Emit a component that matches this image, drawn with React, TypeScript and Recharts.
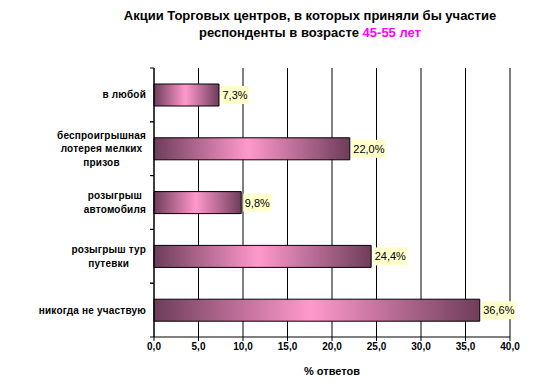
import React from 'react';
import { BarChart, Bar, XAxis, YAxis, CartesianGrid, ReferenceLine, LabelList } from 'recharts';

const categories = [
    'в любой',
    'беспроигрышная\nлотерея мелких\nпризов',
    'розыгрыш\nавтомобиля',
    'розыгрыш тур\nпутевки',
    'никогда не участвую',
];
const values = [7.3, 22.0, 9.8, 24.4, 36.6];
const xTicks = [0, 5, 10, 15, 20, 25, 30, 35, 40];

const data = categories.map((name, i) => ({ name, value: values[i] }));

const W = 535;
const H = 390;
const FONT = '"Liberation Sans", Arial, sans-serif';
const margin = { top: 68, right: 25, bottom: 13, left: 4 };
const xAxisHeight = 40;
const band = (H - margin.top - margin.bottom - xAxisHeight) / categories.length;

let ctx: CanvasRenderingContext2D | null = null;
const measure = (text: string, font: string, spacing = 0) => {
    if (!ctx) ctx = document.createElement('canvas').getContext('2d');
    if (!ctx) return text.length * 6;
    ctx.font = font;
    return ctx.measureText(text).width + spacing * text.length;
};

const fmt = (v: number) => v.toFixed(1).replace('.', ',');

const CategoryTick = (props: any) => {
    const { x, y, payload } = props;
    const lines = String(payload.value).split('\n');
    const spacing = 0.2;
    const w = Math.max(...lines.map((l) => measure(l, `bold 10px ${FONT}`, spacing)));
    const cx = x - w / 2;
    const lh = 13.5;
    const y0 = y - ((lines.length - 1) * lh) / 2;
    return (
        <g>
            <line x1={x + 4} x2={x + 8} y1={y - band / 2} y2={y - band / 2} stroke="#000" />
            <line x1={x + 4} x2={x + 8} y1={y + band / 2} y2={y + band / 2} stroke="#000" />
            {lines.map((l, i) => (
                <text
                    key={i}
                    x={cx}
                    y={y0 + i * lh}
                    textAnchor="middle"
                    dominantBaseline="central"
                    fontFamily={FONT}
                    fontSize={10}
                    fontWeight="bold"
                    letterSpacing={spacing}
                    fill="#000"
                >
                    {l}
                </text>
            ))}
        </g>
    );
};

const ValueLabel = (props: any) => {
    const { x, y, width, height, value } = props;
    const text = fmt(Number(value)) + '%';
    const tw = measure(text, `11px ${FONT}`);
    const lx = x + width + 2;
    const cy = y + height / 2;
    return (
        <g>
            <rect x={lx} y={cy - 9} width={tw + 3} height={18} fill="#ffffcc" />
            <text x={lx + 1.5} y={cy} dominantBaseline="central" fontFamily={FONT} fontSize={11} fill="#000">
                {text}
            </text>
        </g>
    );
};

const App: React.FC = () => {
    return (
        <div style={{ position: 'absolute', left: 0, top: 0, width: W, height: H, background: '#fff', fontFamily: FONT }}>
            <div
                style={{
                    position: 'absolute',
                    left: 110,
                    top: 7,
                    width: 400,
                    textAlign: 'center',
                    fontSize: 13,
                    fontWeight: 'bold',
                    lineHeight: '17px',
                    color: '#000',
                }}
            >
                Акции Торговых центров, в которых приняли бы участие
                <br />
                респонденты в возрасте <span style={{ color: '#ff00ff' }}>45-55 лет</span>
            </div>
            <BarChart width={W} height={H} data={data} layout="vertical" margin={margin} barCategoryGap={0}>
                <defs>
                    <linearGradient id="barGrad" x1="0" y1="0" x2="1" y2="0">
                        <stop offset="0%" stopColor="#6e3d5a" />
                        <stop offset="48%" stopColor="#ff99cc" />
                        <stop offset="100%" stopColor="#6e3d5a" />
                    </linearGradient>
                </defs>
                <CartesianGrid horizontal={false} stroke="#000" strokeWidth={1} />
                <XAxis
                    type="number"
                    domain={[0, 40]}
                    ticks={xTicks}
                    tickFormatter={fmt}
                    height={xAxisHeight}
                    tickSize={4}
                    stroke="#000"
                    tick={{ fill: '#000', fontSize: 10, fontWeight: 'bold', fontFamily: FONT }}
                    label={{ value: '% ответов', position: 'insideBottom', offset: 2, fill: '#000', fontSize: 11, fontWeight: 'bold', fontFamily: FONT }}
                    interval={0}
                />
                <YAxis
                    type="category"
                    dataKey="name"
                    width={150}
                    stroke="#000"
                    tickLine={false}
                    tick={<CategoryTick />}
                    interval={0}
                />
                <ReferenceLine x={40} stroke="#808080" />
                <Bar dataKey="value" barSize={22} fill="url(#barGrad)" stroke="#000" strokeWidth={1} isAnimationActive={false}>
                    <LabelList dataKey="value" content={<ValueLabel />} />
                </Bar>
            </BarChart>
        </div>
    );
};

export default App;
